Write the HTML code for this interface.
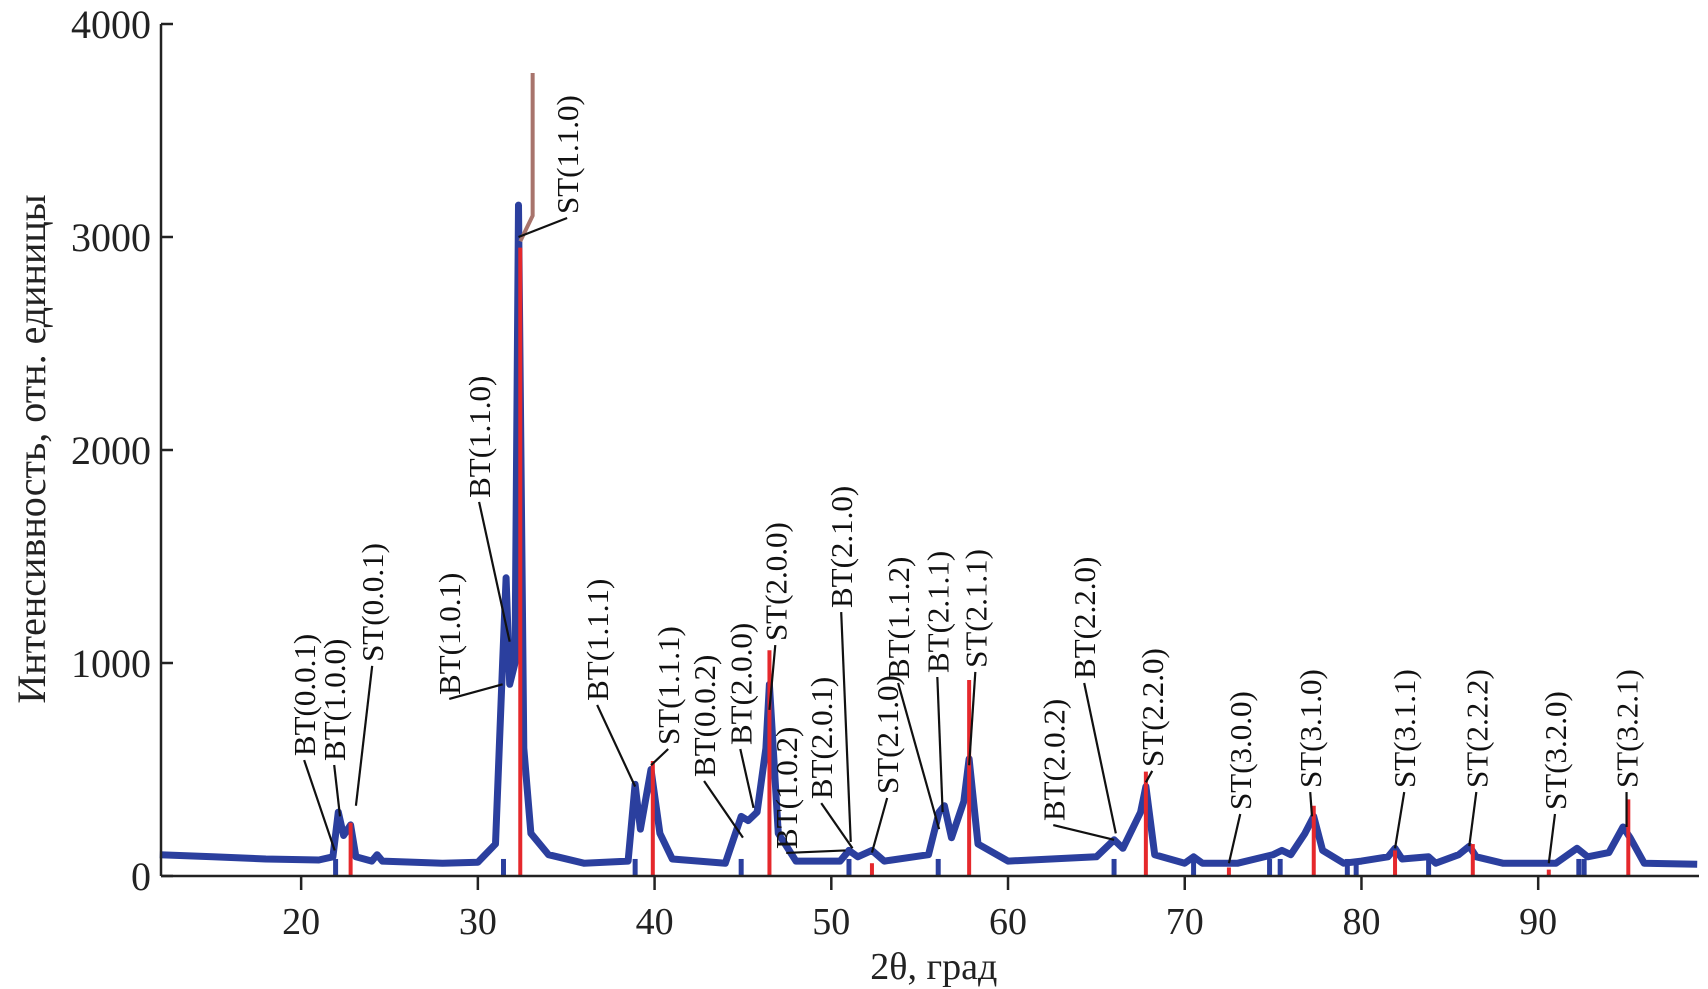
<!DOCTYPE html>
<html><head><meta charset="utf-8"><style>
html,body{margin:0;padding:0;background:#fff;}
svg{display:block;font-family:"Liberation Serif","DejaVu Serif",serif;}
</style></head><body>
<svg id="chart" width="1708" height="989" viewBox="0 0 1708 989" xmlns="http://www.w3.org/2000/svg">
<g id="plot"></g>
</svg>
<script>
const xTicks = [20,30,40,50,60,70,80,90];
const yTicks = [0,1000,2000,3000,4000];
const specX = [12,15,18,21,21.8,22.1,22.4,22.8,23.1,24,24.3,24.6,28,30,31,31.4,31.6,31.8,32.1,32.3,32.6,33,34,36,38.5,38.9,39.2,39.8,40.3,41,44,44.9,45.3,45.8,46.3,46.5,47,48,50.5,51,51.5,52.3,53,55.5,56.1,56.4,56.8,57.5,57.8,58.3,60,65,66,66.5,67.5,67.8,68.3,70,70.5,71,73,75,75.5,76,76.8,77.3,77.8,79,80,81.5,81.9,82.3,83.8,84.2,85.5,86.1,86.5,88,91,92.2,92.8,94,94.8,95.2,96,99];
const specY = [100,90,80,75,90,300,190,240,90,70,100,70,60,65,150,1000,1400,900,1000,3150,600,200,100,60,70,430,220,500,200,80,60,280,260,300,600,900,200,70,70,120,90,120,70,100,300,330,180,350,550,150,70,90,170,130,300,420,100,60,90,60,60,100,120,100,200,280,120,60,70,90,130,80,90,60,100,140,90,60,60,130,90,110,230,180,60,55];
const stickX = [22.8,32.4,39.9,46.5,52.3,57.8,67.8,72.5,77.3,81.9,86.3,90.6,95.1];
const stickY = [250,2950,540,1060,60,920,490,40,330,120,150,30,360];
const dropX = [21.95,31.45,38.9,44.9,51,56.05,66,70.5,74.8,75.4,79.2,79.7,83.8,92.3,92.6];
const labelText = ["BT(0.0.1)","BT(1.0.0)","ST(0.0.1)","BT(1.0.1)","BT(1.1.0)","ST(1.1.0)","BT(1.1.1)","ST(1.1.1)","BT(0.0.2)","BT(2.0.0)","ST(2.0.0)","BT(1.0.2)","BT(2.0.1)","BT(2.1.0)","ST(2.1.0)","BT(1.1.2)","BT(2.1.1)","ST(2.1.1)","BT(2.0.2)","BT(2.2.0)","ST(2.2.0)","ST(3.0.0)","ST(3.1.0)","ST(3.1.1)","ST(2.2.2)","ST(3.2.0)","ST(3.2.1)"];
const labelPeakX = [21.9,22.2,23.1,31.4,31.8,32.3,38.9,39.8,45.0,45.6,46.5,50.8,51.2,51.1,52.3,56.1,56.3,57.8,66.0,66.1,67.8,72.5,77.2,81.9,86.1,90.6,95.0];
const labelPeakY = [120,280,330,900,1100,3000,420,520,180,320,780,120,130,160,110,220,300,520,170,200,440,60,280,130,140,60,230];
const labelAnchorX = [20.17,21.87,24.02,28.38,30.07,35.05,36.75,40.77,42.8,44.85,46.83,47.45,49.43,50.56,53.16,53.78,56.0,58.15,62.56,64.31,68.16,73.14,77.1,82.42,86.5,90.95,95.0];
const labelAnchorY = [563,540,1005,850,1775,3108,822,615,465,615,1103,127,361,1258,385,925,953,977,258,925,512,310,413,413,413,310,413];

const NS='http://www.w3.org/2000/svg';
const g=document.getElementById('plot');
const X0=161,X1=1699,XMIN=12.07,XMAX=99.1,Y0=876,YS=0.213;
const sx=v=>X0+(v-XMIN)/(XMAX-XMIN)*(X1-X0);
const sy=v=>Y0-v*YS;
function mk(tag,attrs){const e=document.createElementNS(NS,tag);for(const k in attrs)e.setAttribute(k,attrs[k]);g.appendChild(e);return e;}

dropX.forEach(x=>{
  const e=mk('line',{x1:sx(x),x2:sx(x),y1:sy(80),y2:Y0,stroke:'#2b3f9e','stroke-width':5});
  
  
});
let d='';
specX.forEach((x,i)=>{d+=(i?'L':'M')+sx(x).toFixed(1)+','+sy(specY[i]).toFixed(1);});
const sp=mk('path',{d:d,fill:'none',stroke:'#2b3f9e','stroke-width':7,'stroke-linejoin':'round'});


stickX.forEach((x,i)=>{
  const e=mk('line',{x1:sx(x),x2:sx(x),y1:sy(stickY[i]),y2:Y0,stroke:'#e5282c','stroke-width':4});
  
  
});
const br=mk('polyline',{points:sx(33.1)+','+sy(3770)+' '+sx(33.1)+','+sy(3100)+' '+sx(32.4)+','+sy(2980),fill:'none',stroke:'#a8746c','stroke-width':4});


const ax=mk('line',{x1:X0,x2:X0,y1:sy(4000),y2:Y0,stroke:'#222','stroke-width':2.5});


const axx=mk('line',{x1:X0,x2:X1,y1:Y0,y2:Y0,stroke:'#222','stroke-width':2.5});


xTicks.forEach(t=>{
  const l=mk('line',{x1:sx(t),x2:sx(t),y1:Y0,y2:Y0+14,stroke:'#222','stroke-width':2.5});
  
  
  const tx=mk('text',{x:sx(t),y:Y0+58,'font-size':38,'text-anchor':'middle',fill:'#222'});
  tx.textContent=t;
  
  
});
yTicks.forEach(t=>{
  const l=mk('line',{x1:X0,x2:X0+12,y1:sy(t),y2:sy(t),stroke:'#222','stroke-width':2.5});
  
  
  const tx=mk('text',{x:X0-10,y:sy(t)+14,'font-size':40,'text-anchor':'end',fill:'#222'});
  tx.textContent=t;
  
  
});
const xt=mk('text',{x:sx(55.8),y:979,'font-size':38,'text-anchor':'middle',fill:'#222'});
xt.textContent='2θ, град';


const yt=mk('text',{x:0,y:0,'font-size':40,'text-anchor':'middle',fill:'#222',transform:'translate(45,449) rotate(-90)'});
yt.textContent='Интенсивность, отн. единицы';


labelText.forEach((s,i)=>{
  const lx=sx(labelAnchorX[i]), ly=sy(labelAnchorY[i]);
  const ln=mk('line',{x1:lx,y1:ly+4,x2:sx(labelPeakX[i]),y2:sy(labelPeakY[i]),stroke:'#111','stroke-width':2.2});
  
  
  const t=mk('text',{x:0,y:0,'font-size':31,fill:'#111',transform:'translate('+(lx+11)+','+ly+') rotate(-90)'});
  t.textContent=s;
  
  
});
</script>
</body></html>
